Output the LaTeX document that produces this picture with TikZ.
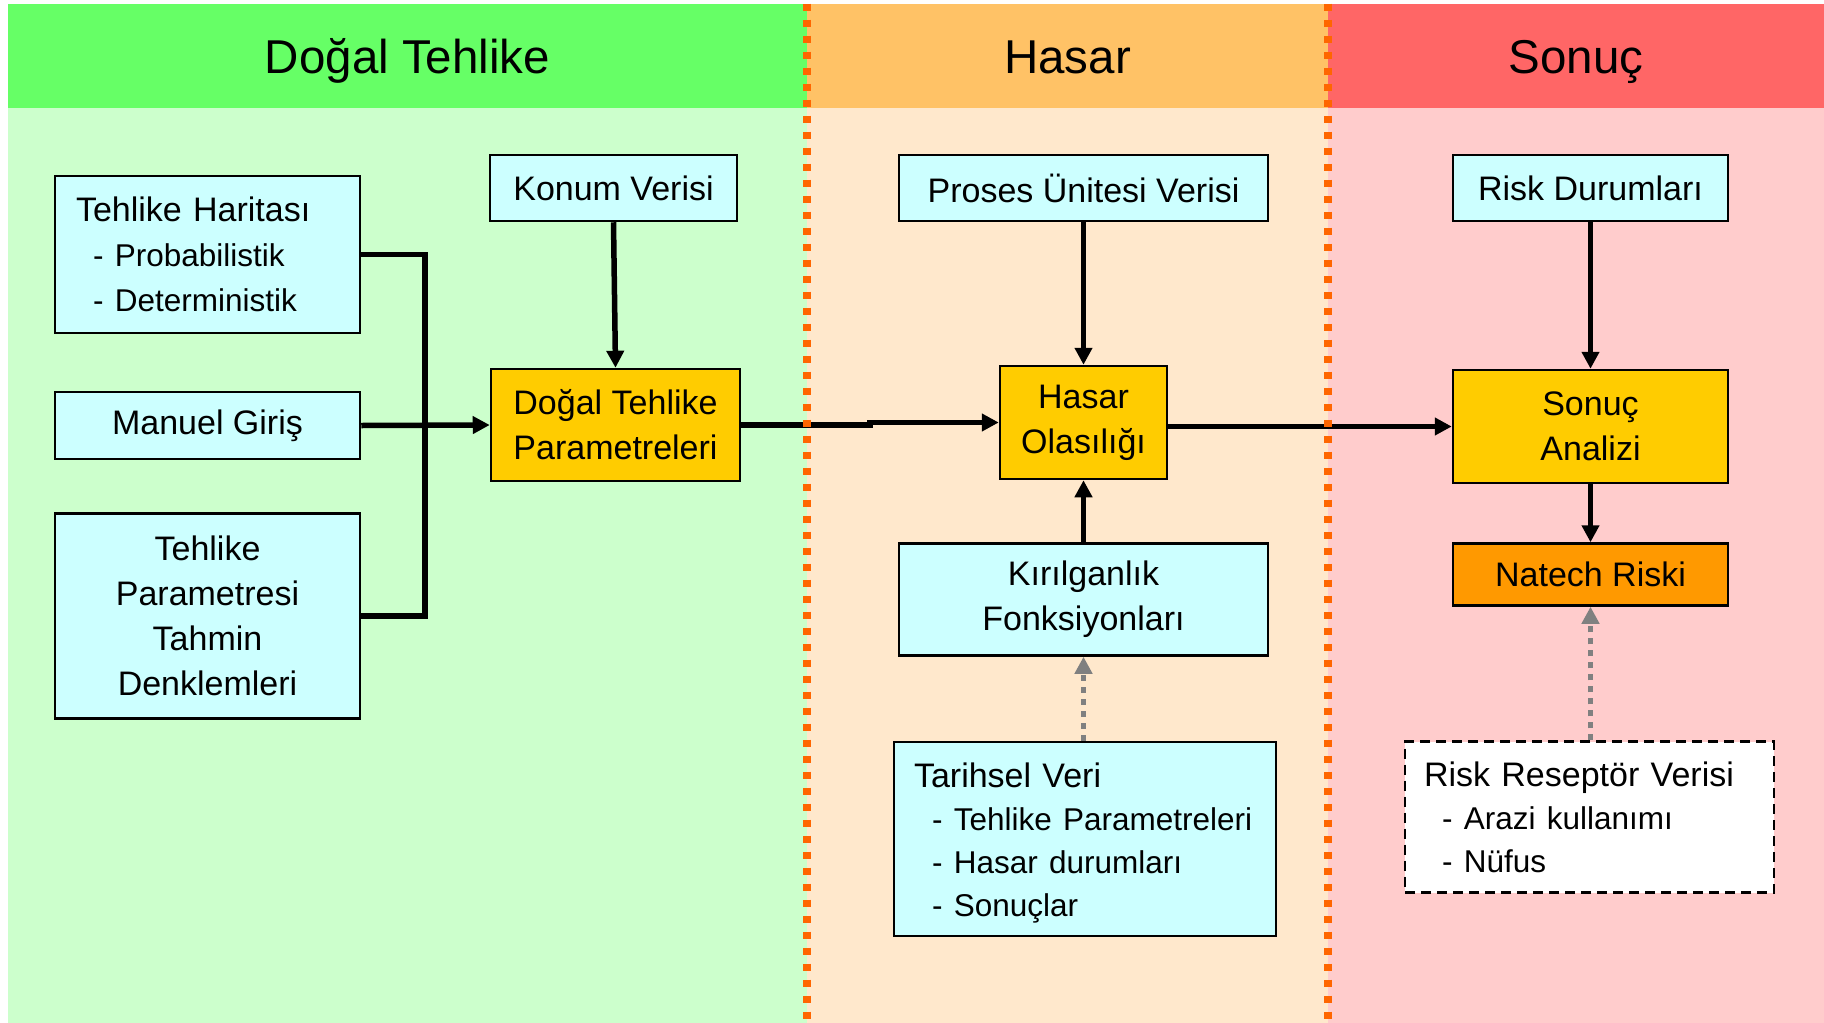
\documentclass[tikz,border=0pt]{standalone}
\usepackage{fontspec}
\setmainfont{Liberation Sans}
\usetikzlibrary{arrows.meta}
\definecolor{hdgreen}{HTML}{66FF66}
\definecolor{ltgreen}{HTML}{CCFFCC}
\definecolor{hdorange}{HTML}{FFC266}
\definecolor{ltorange}{HTML}{FFE8CC}
\definecolor{hdred}{HTML}{FF6666}
\definecolor{ltred}{HTML}{FFCCCC}
\definecolor{boxcyan}{HTML}{CCFFFF}
\definecolor{boxyellow}{HTML}{FFCC00}
\definecolor{boxorange}{HTML}{FF9900}
\definecolor{divorange}{HTML}{FF6600}
\definecolor{arrgray}{HTML}{808080}
\newcommand\subitemfnt{\fontsize{31.5}{43}\selectfont}
\begin{document}
\begin{tikzpicture}[x=1pt,y=-1pt,
  box/.style={draw=black, line width=2.5pt, inner sep=0pt, align=center,
              font=\fontsize{34}{45}\selectfont},
  cbox/.style={box, fill=boxcyan},
  ybox/.style={box, fill=boxyellow},
  obox/.style={box, fill=boxorange},
  tight/.style={font=\fontsize{34}{43}\selectfont},
  header/.style={font=\fontsize{47.5}{50}\selectfont, anchor=base, inner sep=0pt},
  conn/.style={draw=black, line width=5.5pt, -{Triangle[length=17pt,width=17pt]}},
  bracketline/.style={draw=black, line width=5.5pt, line join=miter},
  dotconn/.style={draw=arrgray, line width=5.5pt, dash pattern=on 6pt off 6pt,
                  -{Triangle[length=17pt,width=17pt]}},
  divider/.style={draw=divorange, line width=7.5pt, dash pattern=on 7.5pt off 8.5pt}
]
\useasboundingbox (0,0) rectangle (1824,1023);
% bands
\fill[hdgreen] (7.5,3.5) rectangle (807,108);
\fill[ltgreen] (7.5,108) rectangle (807,1023);
\fill[hdorange] (807,3.5) rectangle (1328,108);
\fill[ltorange] (807,108) rectangle (1328,1023);
\fill[hdred] (1328,3.5) rectangle (1824,108);
\fill[ltred] (1328,108) rectangle (1824,1023);
% headers
\node[header] (hd1) at (407.5,73) {Doğal Tehlike};
\node[header] (hd2) at (1067.5,73) {Hasar};
\node[header] (hd3) at (1576,73) {Sonuç};
% boxes - column 1
\node[cbox, align=left, text width=263pt, inner xsep=21pt, minimum height=157pt]
  (TH) at (207.5,254.5) {\mbox{Tehlike Haritası}\\\mbox{\subitemfnt\hspace*{17pt}- Probabilistik}\\\mbox{\subitemfnt\hspace*{17pt}- Deterministik}};
\node[cbox, minimum width=305pt, minimum height=67pt] (MG) at (207.5,425.5) {Manuel Giriş};
\node[cbox, minimum width=305pt, minimum height=205pt] (TP) at (207.5,616) {Tehlike\\Parametresi\\Tahmin\\Denklemleri};
\node[cbox, minimum width=247pt, minimum height=66pt] (KV) at (613.5,188) {Konum Verisi};
\node[ybox, minimum width=249pt, minimum height=112pt] (DTP) at (615.5,425) {Doğal Tehlike\\Parametreleri};
% column 2
\node[cbox, minimum width=369pt, minimum height=66pt] (PUV) at (1083.5,188) {Proses Ünitesi Verisi};
\node[ybox, minimum width=167pt, minimum height=113pt] (HO) at (1083.5,422.5) {Hasar\\Olasılığı};
\node[cbox, minimum width=369pt, minimum height=112pt] (KF) at (1083.5,599.5) {Kırılganlık\\Fonksiyonları};
\node[cbox, tight, align=left, text width=342pt, inner xsep=20pt, minimum height=194pt]
  (TV) at (1085,839) {\mbox{\rule{0pt}{32pt}Tarihsel Veri}\\\mbox{\subitemfnt\hspace*{18pt}- Tehlike Parametreleri}\\\mbox{\subitemfnt\hspace*{18pt}- Hasar durumları}\\\mbox{\subitemfnt\hspace*{18pt}- Sonuçlar}};
% column 3
\node[cbox, minimum width=275pt, minimum height=66pt] (RD) at (1590.5,188) {Risk Durumları};
\node[ybox, minimum width=275pt, minimum height=113pt] (SA) at (1590.5,426.5) {Sonuç\\Analizi};
\node[obox, minimum width=275pt, minimum height=62pt] (NR) at (1590.5,574.5) {Natech Riski};
\node[box, tight, fill=white, dash pattern=on 10pt off 6pt, align=left, text width=331pt, inner xsep=19pt, minimum height=151pt]
  (RR) at (1589.5,817) {\mbox{Risk Reseptör Verisi}\\\mbox{\subitemfnt\hspace*{18pt}- Arazi kullanımı}\\\mbox{\subitemfnt\hspace*{18pt}- Nüfus}};
% connectors
\coordinate (brk) at (425,425);
\draw[bracketline] (TH.east) -| (brk) |- (TP.east);
\draw[conn] (MG.east) -- (DTP.west);
\draw[conn] (KV.south) -- (DTP.north);
\coordinate (jog) at (870,425);
\draw[conn] (DTP.east) -- (jog) |- (HO.west);
\draw[conn] (PUV.south) -- (HO.north);
\draw[conn] (KF.north) -- (HO.south);
\draw[dotconn] (TV.north -| KF.south) -- (KF.south);
\draw[conn] (HO.east |- SA.west) -- (SA.west);
\draw[conn] (RD.south) -- (SA.north);
\draw[conn] (SA.south) -- (NR.north);
\draw[dotconn] (RR.north -| NR.south) -- (NR.south);
% dividers
\draw[divider] (807,3.5) -- (807,1023);
\draw[divider] (1328,3.5) -- (1328,1023);
\end{tikzpicture}
\end{document}
